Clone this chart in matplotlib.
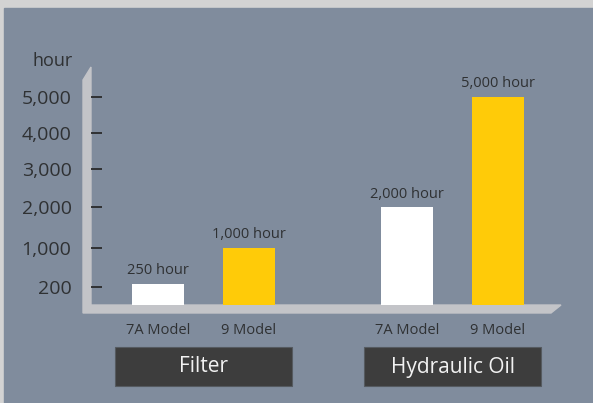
import numpy as np
import matplotlib.pyplot as plt
from matplotlib.patches import Polygon, Rectangle

plt.rcParams['font.family'] = ['Open Sans', 'DejaVu Sans']

# data
models = ['7A Model', '9 Model', '7A Model', '9 Model']
hours = [250, 1000, 2000, 5000]
bar_labels = ['250 hour', '1,000 hour', '2,000 hour', '5,000 hour']
positions = [0, 1, 2.736, 3.736]
groups = ['Filter', 'Hydraulic Oil']
y_ticks = [200, 1000, 2000, 3000, 4000, 5000]
y_tick_labels = ['200', '1,000', '2,000', '3,000', '4,000', '5,000']

W, H = 593, 403
bg = '#808c9d'
text_col = '#2f3133'
bar_colors = ['white', '#ffcb08', 'white', '#ffcb08']


def px(x, y):
    # pixel (from top-left) -> figure fraction
    return (x / W, 1 - y / H)


fig = plt.figure(figsize=(W / 100, H / 100), dpi=100)
fig.patch.set_facecolor('#d3d3d3')
fig.patches.append(Rectangle(px(4, H), (W - 4) / W, (H - 8) / H,
                             transform=fig.transFigure, color=bg, zorder=-1))

# axes box: x 91..551 px, y 67..305 px
ax = fig.add_axes([91 / W, 1 - 305 / H, (551 - 91) / W, (305 - 67) / H])
ax.set_facecolor('none')
ax.set_zorder(1)

# the original axis is compressed near the bottom
c = 30.3
fwd = lambda v: v + c * np.sqrt(np.maximum(v, 0))
inv = lambda t: ((-c + np.sqrt(c * c + 4 * np.maximum(t, 0))) / 2) ** 2
ax.set_yscale('function', functions=(fwd, inv))
top_t = fwd(5000) * 238 / 208
ax.set_ylim(0, inv(top_t))
ax.set_xlim(-0.736, 4.319)

bars = ax.bar(positions, hours, width=0.57, color=bar_colors, zorder=3)
for b, lab in zip(bars, bar_labels):
    ax.annotate(lab, (b.get_x() + b.get_width() / 2, b.get_height()),
                xytext=(0, 4), textcoords='offset points',
                ha='center', va='bottom', fontsize=10.5, color=text_col)

for s in ax.spines.values():
    s.set_visible(False)

ax.set_yticks(y_ticks, y_tick_labels)
ax.tick_params(axis='y', direction='in', length=8, width=1.3, color='#2a2a2a',
               pad=14, labelsize=14, labelcolor=text_col)
ax.set_xticks(positions, models)
ax.tick_params(axis='x', length=0, pad=13, labelsize=10.5, labelcolor=text_col)

ax.text(-0.04, 1.004, 'hour', transform=ax.transAxes, ha='right',
        va='baseline', fontsize=13, color=text_col)

# L-shaped axis frame with angled ends
frame = [px(83, 313), px(551, 313), px(561, 305), px(91, 305),
         px(91, 67), px(83, 80)]
fig.patches.append(Polygon(frame, closed=True, transform=fig.transFigure,
                           color='#c3c4c8', zorder=0.5))

# group boxes
box_x = [115, 364]
for x0, g in zip(box_x, groups):
    fig.patches.append(Rectangle(px(x0, 386), 177 / W, 39 / H,
                                 transform=fig.transFigure,
                                 facecolor='#3d3d3d', edgecolor='#555a60',
                                 linewidth=0.8, zorder=0.5))
    cx, cy = px(x0 + 88.5, 367)
    fig.text(cx, cy, g, ha='center', va='center', fontsize=15,
             color='#f2f2f2')

fig.savefig('out.png', dpi=100, facecolor=fig.get_facecolor())
